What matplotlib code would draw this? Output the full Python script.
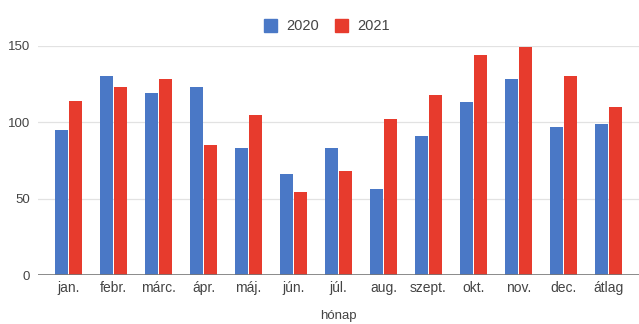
import matplotlib
matplotlib.use("Agg")
import matplotlib.pyplot as plt
import numpy as np
from matplotlib.patches import Rectangle

plt.rcParams['font.family'] = ['Liberation Sans', 'DejaVu Sans']

months = ["jan.", "febr.", "márc.", "ápr.", "máj.", "jún.", "júl.",
          "aug.", "szept.", "okt.", "nov.", "dec.", "átlag"]
values_2020 = [95, 130, 119, 123, 83, 66, 83, 56, 91, 113, 128, 97, 99]
values_2021 = [114, 123, 128, 85, 105, 54, 68, 102, 118, 144, 149, 130, 110]
series_names = ["2020", "2021"]
y_ticks = [0, 50, 100, 150]

blue = "#4a78c6"
red = "#e73b2d"
text_color = "#444444"

fig = plt.figure(figsize=(6.39, 3.24), dpi=100)
ax = fig.add_axes([0.060, 0.151, 0.940, 0.708])

x = np.arange(len(months))
w = 0.28
gap = 0.018
ax.bar(x - w / 2 - gap, values_2020, width=w, color=blue, zorder=3)
ax.bar(x + w / 2 + gap, values_2021, width=w, color=red, zorder=3)

ax.set_xlim(-0.67, 12.68)
ax.set_ylim(0, 150)
ax.set_yticks(y_ticks)
ax.set_yticklabels([str(v) for v in y_ticks], fontsize=9.5, color=text_color)
ax.set_xticks(x)
ax.set_xticklabels(months, fontsize=10, color=text_color)
ax.tick_params(axis='both', length=0)
ax.tick_params(axis='x', pad=4)
ax.tick_params(axis='y', pad=6)

for s in ax.spines.values():
    s.set_visible(False)
ax.grid(axis='y', color="#e2e2e2", linewidth=0.9, zorder=0)
ax.axhline(0, color="#777777", linewidth=1.2, zorder=4)

ax.set_xlabel("hónap", fontsize=9.5, color=text_color, labelpad=11)

# legend above the plot
fig.patches.append(Rectangle((264 / 639, 1 - 32 / 324), 13 / 639, 13 / 324,
                             transform=fig.transFigure, color=blue))
fig.text(286 / 639, 1 - 25.5 / 324, series_names[0], fontsize=10.5,
         color=text_color, va='center', ha='left')
fig.patches.append(Rectangle((335 / 639, 1 - 32 / 324), 13 / 639, 13 / 324,
                             transform=fig.transFigure, color=red))
fig.text(357 / 639, 1 - 25.5 / 324, series_names[1], fontsize=10.5,
         color=text_color, va='center', ha='left')

fig.savefig("out.png", dpi=100)
